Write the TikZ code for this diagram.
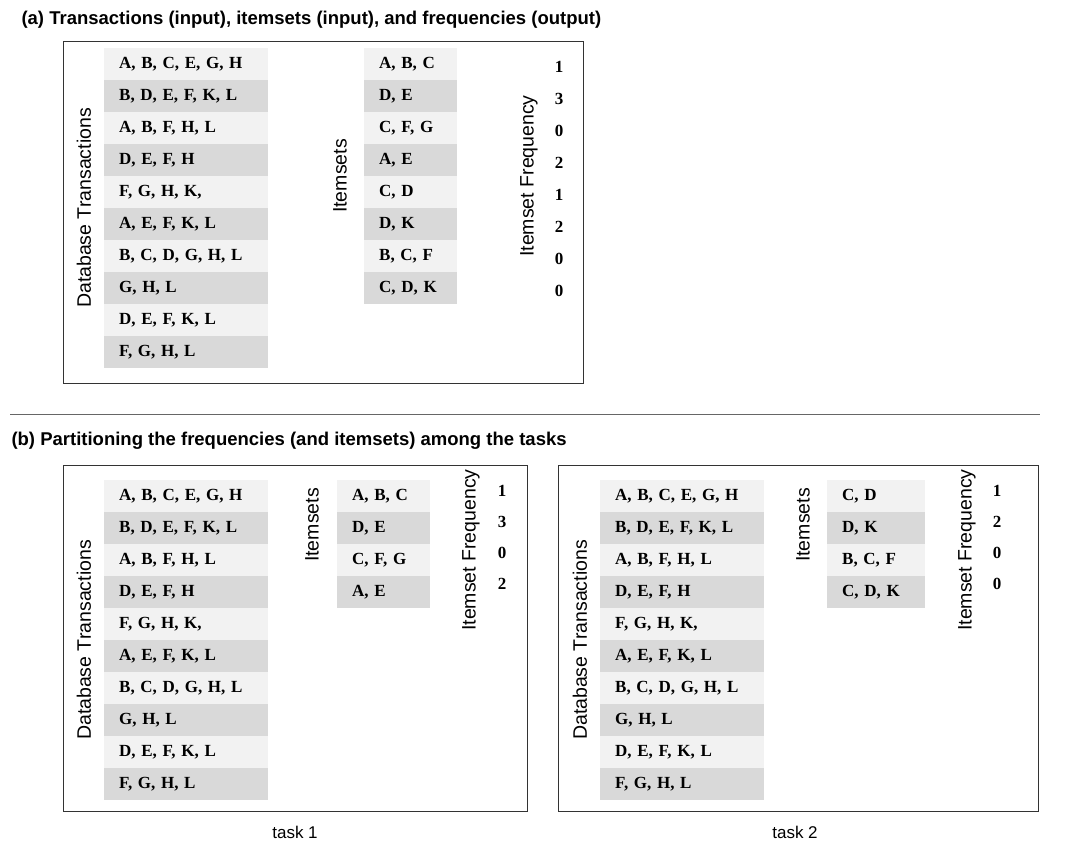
\documentclass[tikz,border=0pt]{standalone}
\usepackage{fontspec}
\setmainfont{Liberation Serif}
\setsansfont{Liberation Sans}
\definecolor{rowA}{HTML}{F2F2F2}
\definecolor{rowB}{HTML}{D9D9D9}
\begin{document}
\begin{tikzpicture}[x=1pt,y=-1pt,
  cell/.style={minimum height=32pt,inner sep=0pt,anchor=north west,text height=12pt,text depth=3pt,align=left,font=\fontsize{17}{19}\selectfont\bfseries},
  lbl/.style={font=\sffamily\fontsize{19.5}{21}\selectfont,rotate=90},
  num/.style={font=\fontsize{17}{19}\selectfont\bfseries},
  ttl/.style={font=\sffamily\bfseries\fontsize{18.5}{20}\selectfont,anchor=west},
  frame/.style={draw=black!80,line width=0.8pt}]
\useasboundingbox (0,0) rectangle (1073,851);
\newcommand{\rowlist}[4]{% x, y, width, list
  \foreach \t [count=\i] in {#4} {
    \pgfmathsetmacro{\yy}{#2+(\i-1)*32}
    \pgfmathtruncatemacro{\odd}{mod(\i,2)}
    \ifnum\odd=1 \def\cc{rowA}\else\def\cc{rowB}\fi
    \node[cell,fill=\cc,minimum width=#3pt,text width=#3pt,inner xsep=0pt] at (#1,\yy) {\hspace*{15pt}\t};
  }}
\node[ttl] (ta) at (18,20) {(a) Transactions (input), itemsets (input), and frequencies (output)};
\node[ttl] (tb) at (8,441) {(b) Partitioning the frequencies (and itemsets) among the tasks};
\draw[black!60] (10,414) -- (1040,414);
% (a)
\draw[frame] (63,41) rectangle (583,383);
\rowlist{104}{48}{164}{{A, B, C, E, G, H},{B, D, E, F, K, L},{A, B, F, H, L},{D, E, F, H},{F, G, H, K,},{A, E, F, K, L},{B, C, D, G, H, L},{G, H, L},{D, E, F, K, L},{F, G, H, L}}
\rowlist{364}{48}{93}{{A, B, C},{D, E},{C, F, G},{A, E},{C, D},{D, K},{B, C, F},{C, D, K}}
\foreach \v [count=\i] in {1,3,0,2,1,2,0,0} \node[num] at (559,{67+(\i-1)*32}) {\v};
\node[lbl] (la1) at (84,208) {Database Transactions};
\node[lbl] (la2) at (340,176) {Itemsets};
\node[lbl] (la3) at (529,176) {Itemset Frequency};
% (b) left
\draw[frame] (63,465) rectangle (527,811);
\rowlist{104}{480}{164}{{A, B, C, E, G, H},{B, D, E, F, K, L},{A, B, F, H, L},{D, E, F, H},{F, G, H, K,},{A, E, F, K, L},{B, C, D, G, H, L},{G, H, L},{D, E, F, K, L},{F, G, H, L}}
\rowlist{337}{480}{93}{{A, B, C},{D, E},{C, F, G},{A, E}}
\foreach \v [count=\i] in {1,3,0,2} \node[num] at (502,{491+(\i-1)*31}) {\v};
\node[lbl] (lb1) at (84,640) {Database Transactions};
\node[lbl] (lb2) at (312,525) {Itemsets};
\node[lbl] (lb3) at (471,550) {Itemset Frequency};
\node[font=\sffamily\fontsize{17}{19}\selectfont] (t1) at (295,832) {task 1};
% (b) right
\draw[frame] (558,465) rectangle (1038,811);
\rowlist{600}{480}{164}{{A, B, C, E, G, H},{B, D, E, F, K, L},{A, B, F, H, L},{D, E, F, H},{F, G, H, K,},{A, E, F, K, L},{B, C, D, G, H, L},{G, H, L},{D, E, F, K, L},{F, G, H, L}}
\rowlist{827}{480}{98}{{C, D},{D, K},{B, C, F},{C, D, K}}
\foreach \v [count=\i] in {1,2,0,0} \node[num] at (997,{491+(\i-1)*31}) {\v};
\node[lbl] (lc1) at (580,640) {Database Transactions};
\node[lbl] (lc2) at (803,525) {Itemsets};
\node[lbl] (lc3) at (967,550) {Itemset Frequency};
\node[font=\sffamily\fontsize{17}{19}\selectfont] (t2) at (795,832) {task 2};
\end{tikzpicture}
\end{document}
